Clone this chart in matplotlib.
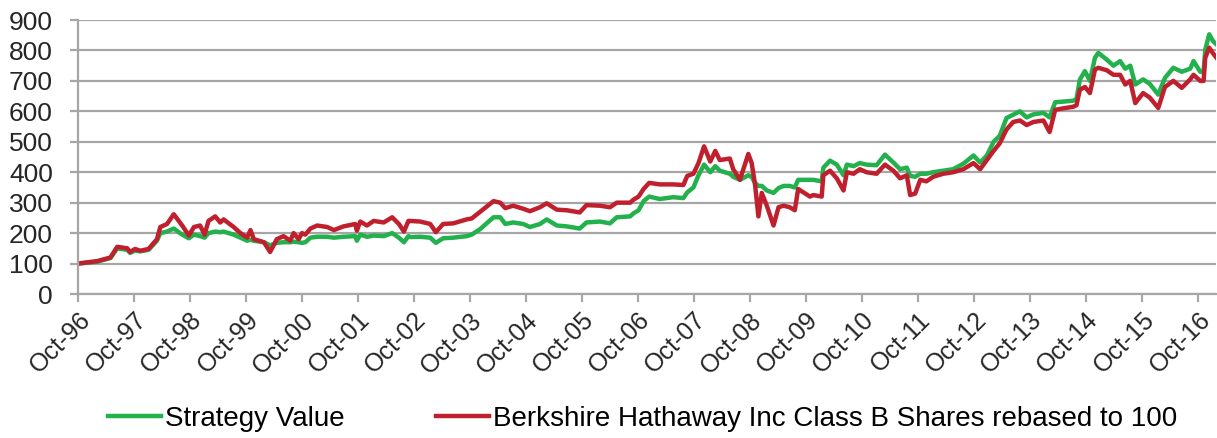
import matplotlib.pyplot as plt

plt.rcParams['font.family'] = ['Liberation Sans', 'DejaVu Sans']

# decimal year of each reading
dates = [1996.75, 1997.09, 1997.33, 1997.45, 1997.63, 1997.68, 1997.77, 1997.86, 1998.01, 1998.16,
         1998.22, 1998.34, 1998.46, 1998.61, 1998.73, 1998.82, 1998.93, 1999.01, 1999.08, 1999.20,
         1999.29, 1999.35, 1999.53, 1999.65, 1999.77, 1999.83, 1999.89, 2000.07, 2000.18, 2000.30,
         2000.42, 2000.54, 2000.60, 2000.69, 2000.75, 2000.81, 2000.90, 2001.02, 2001.20, 2001.32,
         2001.49, 2001.70, 2001.73, 2001.79, 2001.91, 2002.03, 2002.21, 2002.36, 2002.48, 2002.57,
         2002.65, 2002.68, 2002.86, 2003.04, 2003.14, 2003.27, 2003.45, 2003.69, 2003.78, 2003.93,
         2004.17, 2004.29, 2004.38, 2004.52, 2004.70, 2004.82, 2005.00, 2005.12, 2005.30, 2005.48,
         2005.71, 2005.83, 2006.07, 2006.25, 2006.37, 2006.61, 2006.67, 2006.76, 2006.85, 2006.95,
         2007.14, 2007.38, 2007.56, 2007.63, 2007.74, 2007.83, 2007.93, 2008.04, 2008.13, 2008.21,
         2008.39, 2008.45, 2008.57, 2008.72, 2008.78, 2008.84, 2008.90, 2008.96, 2009.05, 2009.17,
         2009.26, 2009.35, 2009.46, 2009.55, 2009.61, 2009.82, 2009.88, 2010.03, 2010.06, 2010.18,
         2010.30, 2010.42, 2010.48, 2010.60, 2010.71, 2010.83, 2011.01, 2011.16, 2011.31, 2011.43,
         2011.55, 2011.61, 2011.70, 2011.79, 2011.90, 2012.02, 2012.20, 2012.38, 2012.56, 2012.74,
         2012.86, 2012.98, 2013.10, 2013.21, 2013.33, 2013.45, 2013.57, 2013.69, 2013.81, 2013.99,
         2014.10, 2014.20, 2014.35, 2014.52, 2014.58, 2014.64, 2014.73, 2014.82, 2014.91, 2014.97,
         2015.12, 2015.24, 2015.36, 2015.45, 2015.54, 2015.63, 2015.77, 2015.89, 2016.04, 2016.16,
         2016.31, 2016.46, 2016.61, 2016.67, 2016.79, 2016.85, 2016.88, 2016.95, 2017.02, 2017.08]

strategy = [100, 106, 118, 150, 145, 135, 143, 140, 145, 175,
            200, 205, 215, 195, 183, 195, 190, 185, 200, 205,
            203, 205, 195, 185, 175, 178, 175, 170, 160, 168,
            170, 170, 172, 170, 168, 170, 185, 188, 188, 185,
            188, 190, 175, 195, 188, 192, 190, 200, 185, 170,
            190, 187, 188, 185, 168, 183, 185, 190, 195, 213,
            252, 252, 230, 235, 230, 220, 230, 245, 225, 222,
            215, 235, 238, 232, 252, 255, 265, 275, 305, 320,
            312, 318, 315, 334, 350, 390, 425, 400, 420, 405,
            395, 385, 375, 390, 385, 365, 355, 355, 340, 332,
            348, 355, 355, 350, 375, 375, 375, 370, 415, 438,
            425, 390, 425, 420, 430, 425, 423, 458, 432, 410,
            415, 388, 385, 395, 395, 400, 405, 410, 428, 455,
            432, 455, 500, 520, 578, 589, 600, 580, 590, 595,
            580, 630, 632, 635, 640, 704, 732, 700, 776, 792,
            770, 750, 765, 740, 750, 688, 705, 690, 655, 710,
            743, 730, 740, 765, 730, 730, 803, 853, 830, 820]

berkshire = [100, 108, 120, 155, 150, 138, 148, 142, 148, 180,
             220, 230, 262, 225, 192, 220, 225, 195, 240, 255,
             235, 245, 220, 200, 185, 210, 180, 170, 138, 180,
             190, 175, 200, 180, 200, 195, 215, 225, 220, 210,
             222, 230, 208, 238, 225, 240, 235, 252, 230, 205,
             240, 240, 238, 230, 203, 230, 232, 245, 248, 270,
             305, 300, 282, 290, 280, 272, 285, 298, 277, 275,
             268, 292, 290, 285, 300, 300, 310, 320, 345, 365,
             360, 360, 358, 388, 395, 430, 485, 435, 470, 440,
             445, 410, 375, 460, 430, 360, 255, 332, 290, 225,
             285, 290, 285, 275, 345, 320, 325, 320, 390, 405,
             380, 340, 400, 395, 410, 400, 395, 425, 405, 380,
             390, 325, 330, 375, 370, 385, 395, 400, 410, 430,
             410, 440, 470, 495, 540, 565, 570, 555, 565, 570,
             532, 605, 610, 615, 620, 671, 680, 660, 737, 743,
             735, 720, 720, 688, 700, 627, 660, 645, 611, 680,
             700, 677, 705, 720, 700, 700, 776, 809, 790, 776]

tick_years = list(range(1996, 2017))
tick_labels = ['Oct-%02d' % (y % 100) for y in tick_years]

fig = plt.figure(figsize=(12.17, 4.38), dpi=100)
ax = fig.add_axes([78 / 1217, 1 - 294 / 438, (1216 - 78) / 1217, (294 - 20) / 438])

ax.plot(dates, strategy, color='#22b14c', lw=3.2, label='Strategy Value', solid_joinstyle='round')
ax.plot(dates, berkshire, color='#c0202d', lw=3.2,
        label='Berkshire Hathaway Inc Class B Shares rebased to 100', solid_joinstyle='round')

ax.set_xlim(1996.75, 1996.75 + (1216 - 78) / 56)
ax.set_ylim(0, 900)
ax.set_yticks(range(0, 901, 100))
ax.set_xticks([y + 0.75 for y in tick_years])
ax.set_xticklabels(tick_labels, rotation=45, ha='right', rotation_mode='anchor')
ax.grid(axis='y', color='#a6a6a6', lw=1.6)
ax.set_axisbelow(True)
for s in ['top', 'right']:
    ax.spines[s].set_visible(False)
for s in ['left', 'bottom']:
    ax.spines[s].set_color('#a6a6a6')
    ax.spines[s].set_linewidth(1.6)
ax.tick_params(axis='both', colors='#a6a6a6', width=1.6, length=6, labelcolor='#262626')
ax.tick_params(axis='y', pad=12, labelsize=19)
ax.tick_params(axis='x', pad=4, labelsize=18)

fig.legend(loc='center', bbox_to_anchor=(0.528, 0.043), ncol=2, frameon=False, fontsize=20,
           handlelength=1.9, handletextpad=0.15, columnspacing=3.3)

fig.savefig('out.png', dpi=100)
